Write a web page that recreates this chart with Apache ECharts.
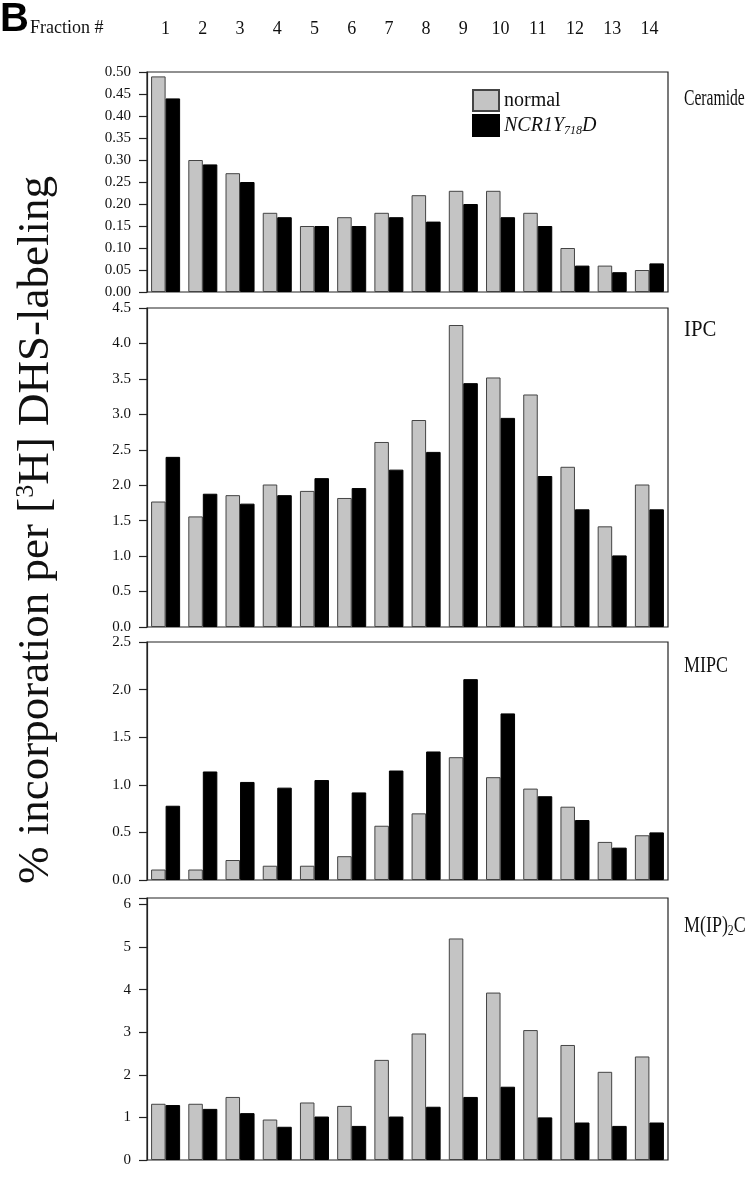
<!DOCTYPE html>
<html>
<head>
<meta charset="utf-8">
<script src="https://cdn.jsdelivr.net/npm/echarts@6/dist/echarts.min.js"></script>
<style>
  html, body {margin: 0; padding: 0; background: #fff;}
  #main {width: 746px; height: 1200px;}
</style>
</head>
<body>
<div id="main"></div>
<script>
var fractions = ['1', '2', '3', '4', '5', '6', '7', '8', '9', '10', '11', '12', '13', '14'];

var ceramideNormal = [0.49, 0.30, 0.27, 0.18, 0.15, 0.17, 0.18, 0.22, 0.23, 0.23, 0.18, 0.10, 0.06, 0.05];
var ceramideMutant = [0.44, 0.29, 0.25, 0.17, 0.15, 0.15, 0.17, 0.16, 0.20, 0.17, 0.15, 0.06, 0.045, 0.065];

var ipcNormal = [1.77, 1.56, 1.86, 2.01, 1.92, 1.82, 2.61, 2.92, 4.26, 3.52, 3.28, 2.26, 1.42, 2.01];
var ipcMutant = [2.40, 1.88, 1.74, 1.86, 2.10, 1.96, 2.22, 2.47, 3.44, 2.95, 2.13, 1.66, 1.01, 1.66];

var mipcNormal = [0.11, 0.11, 0.21, 0.15, 0.15, 0.25, 0.57, 0.70, 1.29, 1.08, 0.96, 0.77, 0.40, 0.47];
var mipcMutant = [0.78, 1.14, 1.03, 0.97, 1.05, 0.92, 1.15, 1.35, 2.11, 1.75, 0.88, 0.63, 0.34, 0.50];

var mip2cNormal = [1.32, 1.32, 1.48, 0.95, 1.35, 1.27, 2.35, 2.97, 5.20, 3.93, 3.05, 2.70, 2.07, 2.43];
var mip2cMutant = [1.29, 1.20, 1.10, 0.78, 1.02, 0.80, 1.02, 1.25, 1.48, 1.72, 1.00, 0.88, 0.80, 0.88];

var panels = [
    {name: 'Ceramide', normal: ceramideNormal, mutant: ceramideMutant, max: 0.5, interval: 0.05, digits: 2, top: 72, height: 220},
    {name: 'IPC', normal: ipcNormal, mutant: ipcMutant, max: 4.5, interval: 0.5, digits: 1, top: 308, height: 319},
    {name: 'MIPC', normal: mipcNormal, mutant: mipcMutant, max: 2.5, interval: 0.5, digits: 1, top: 642, height: 238},
    {name: 'M(IP)2C', normal: mip2cNormal, mutant: mip2cMutant, max: 6.15, interval: 1, digits: 0, top: 898, height: 262}
];

var serif = '"Liberation Serif", "DejaVu Serif", serif';
var chart = echarts.init(document.getElementById('main'));

var grid = [], xAxis = [], yAxis = [], series = [];
panels.forEach(function (p, i) {
    grid.push({left: 147, right: 78, top: p.top, height: p.height, show: true,
        borderColor: '#222', borderWidth: 1.2, backgroundColor: 'transparent'});
    xAxis.push({type: 'category', gridIndex: i, data: fractions,
        position: i === 0 ? 'top' : 'bottom',
        axisLine: {show: false}, axisTick: {show: false},
        axisLabel: {show: i === 0, margin: 34, color: '#111', fontFamily: serif, fontSize: 18}});
    yAxis.push({type: 'value', gridIndex: i, min: 0, max: p.max, interval: p.interval,
        splitLine: {show: false},
        axisLine: {show: true, lineStyle: {color: '#222', width: 1.2}},
        axisTick: {show: true, length: 8, lineStyle: {color: '#222', width: 1.2}},
        axisLabel: {margin: 16, color: '#111', fontFamily: serif, fontSize: 15,
            formatter: function (v) {
                if (Math.abs(v / p.interval - Math.round(v / p.interval)) > 1e-6) return '';
                return v.toFixed(p.digits);
            }}});
    series.push({name: 'normal', type: 'bar', xAxisIndex: i, yAxisIndex: i, data: p.normal,
        barGap: '0%', barCategoryGap: '22%',
        itemStyle: {color: '#c4c4c4', borderColor: '#444', borderWidth: 1}});
    series.push({name: 'NCR1Y718D', type: 'bar', xAxisIndex: i, yAxisIndex: i, data: p.mutant,
        barGap: '0%', barCategoryGap: '22%',
        itemStyle: {color: '#000', borderColor: '#000', borderWidth: 1}});
});

// condensed serif labels on the right of each panel
var sideLabel = function (txt, top, sx) {
    return {type: 'text', x: 684, y: top, scaleX: sx, style: {
        text: txt, fill: '#111',
        rich: {
            a: {fontFamily: serif, fontSize: 23, fill: '#111'},
            b: {fontFamily: serif, fontSize: 15, fill: '#111', verticalAlign: 'bottom', padding: [12, 0, 0, 0]}
        }}};
};

var option = {
    backgroundColor: '#fff',
    animation: false,
    grid: grid,
    xAxis: xAxis,
    yAxis: yAxis,
    series: series,
    legend: {
        left: 467, top: 84, orient: 'vertical', itemWidth: 26, itemHeight: 21, itemGap: 2,
        icon: 'rect',
        data: ['normal', 'NCR1Y718D'],
        formatter: function (n) {
            return n === 'normal' ? '{r|normal}' : '{i|NCR1Y}{s|718}{i|D}';
        },
        textStyle: {
            color: '#111', fontFamily: serif, fontSize: 20,
            rich: {
                r: {fontFamily: serif, fontSize: 20, color: '#111'},
                i: {fontFamily: serif, fontSize: 20, fontStyle: 'italic', color: '#111'},
                s: {fontFamily: serif, fontSize: 12, fontStyle: 'italic', color: '#111', verticalAlign: 'bottom', padding: [10, 0, 0, 0]}
            }
        }
    },
    graphic: [
        {type: 'text', left: 0, top: 0, style: {text: 'B', font: 'bold 40px "Liberation Sans", Arial, sans-serif', fill: '#000'}},
        {type: 'text', left: 30, top: 19, style: {text: 'Fraction #', font: '18px ' + serif, fill: '#111'}},
        sideLabel('{a|Ceramide}', 87, 0.68),
        sideLabel('{a|IPC}', 318, 0.9),
        sideLabel('{a|MIPC}', 654, 0.78),
        sideLabel('{a|M(IP)}{b|2}{a|C}', 912, 0.78),
        {type: 'text', x: 36, y: 530, rotation: Math.PI / 2, style: {
            text: '{a|% incorporation per [}{b|3}{a|H] DHS-labeling}',
            align: 'center', verticalAlign: 'middle',
            rich: {
                a: {fontFamily: serif, fontSize: 45, fill: '#111'},
                b: {fontFamily: serif, fontSize: 26, fill: '#111', verticalAlign: 'top', padding: [0, 0, 18, 0]}
            }}}
    ]
};
chart.setOption(option);
</script>
</body>
</html>
